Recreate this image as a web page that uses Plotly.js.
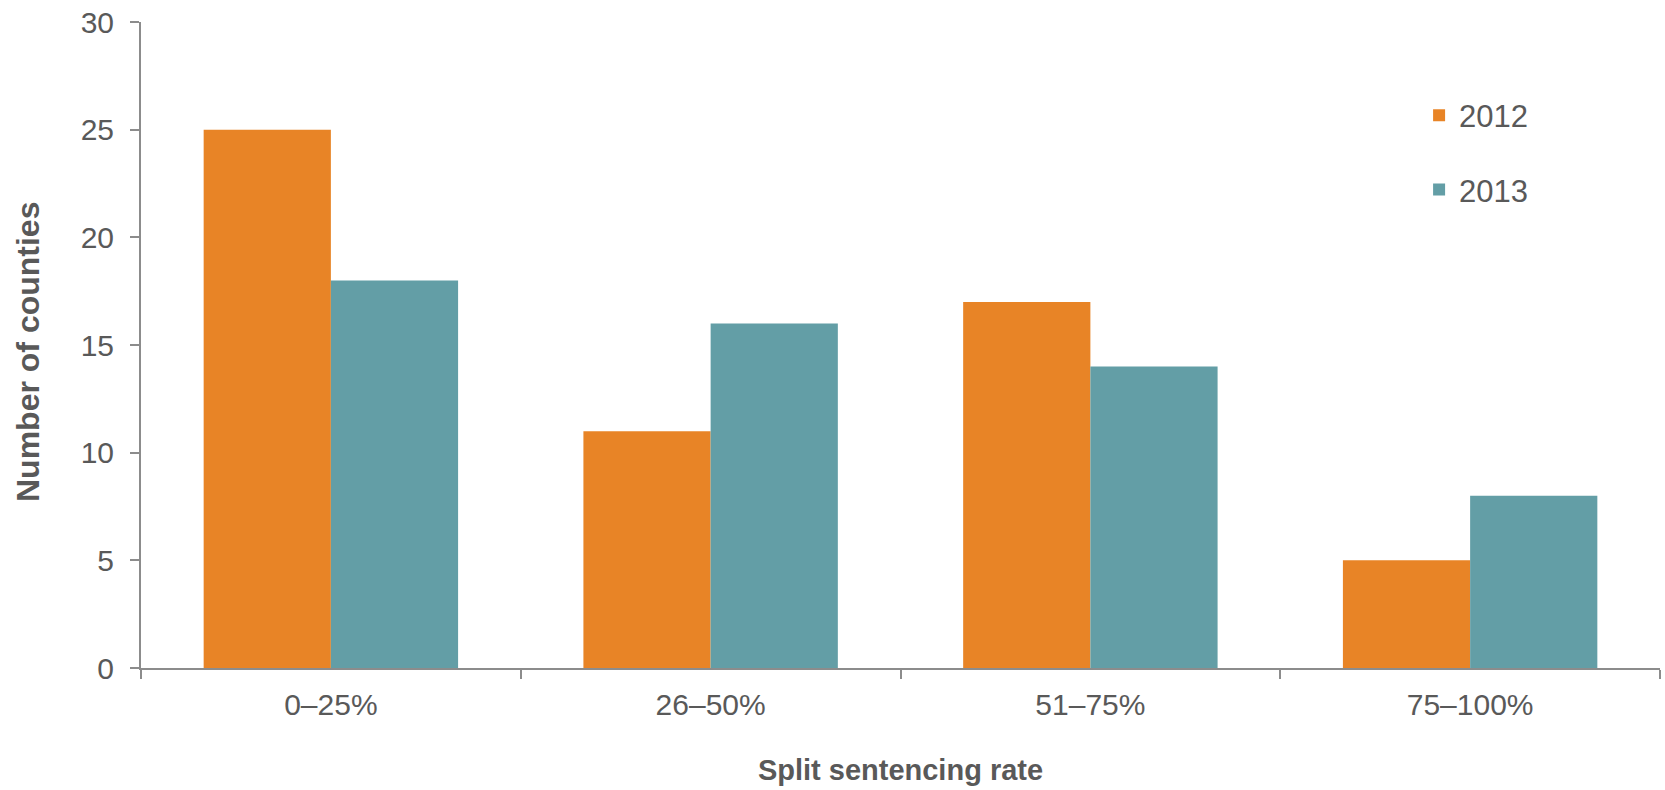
<!DOCTYPE html>
<html>
<head>
<meta charset="utf-8">
<script src="https://cdn.plot.ly/plotly-3.0.1.min.js"></script>
<style>html,body{margin:0;padding:0;background:#fff;}#chart{width:1665px;height:790px;}</style>
</head>
<body>
<div id="chart"></div>
<script>
const categories = ["0–25%", "26–50%", "51–75%", "75–100%"];
const values2012 = [25, 11, 17, 5];
const values2013 = [18, 16, 14, 8];
const seriesNames = ["2012", "2013"];
const yTickValues = [0, 5, 10, 15, 20, 25, 30];

const textColor = "#595959";
const axisColor = "#8c8c8c";
const fontFam = "Liberation Sans, Arial, sans-serif";

const traces = [
  {type: "bar", name: seriesNames[0], x: categories, y: values2012, legendgroup: "a",
   marker: {color: "#E88426", line: {width: 0}}, hoverinfo: "x+y+name"},
  {type: "bar", name: seriesNames[1], x: categories, y: values2013, legendgroup: "b",
   marker: {color: "#639EA6", line: {width: 0}}, hoverinfo: "x+y+name"}
];

const layout = {
  width: 1665, height: 790,
  margin: {l: 141, r: 5, t: 22, b: 122, pad: 0},
  paper_bgcolor: "#ffffff", plot_bgcolor: "#ffffff",
  font: {family: fontFam, color: textColor, size: 30},
  barmode: "group", bargap: 0.33, bargroupgap: 0,
  showlegend: true,
  legend: {x: 0.8414, y: 0.897, xanchor: "left", yanchor: "top",
           font: {family: fontFam, size: 31, color: textColor},
           traceorder: "grouped", tracegroupgap: 31, itemwidth: 30,
           bgcolor: "rgba(0,0,0,0)"},
  annotations: [{
    text: "Number of counties", textangle: -90, showarrow: false,
    xref: "paper", yref: "paper",
    x: (28 - 141) / 1519, y: 1 - (352 - 22) / 646,
    xanchor: "center", yanchor: "middle",
    font: {family: fontFam, size: 32, color: textColor, weight: "bold"}
  }],
  xaxis: {
    type: "category",
    showline: true, linecolor: axisColor, linewidth: 2,
    ticks: "outside", tickson: "boundaries", ticklen: 9, tickcolor: axisColor, tickwidth: 2,
    showgrid: false, zeroline: false,
    tickfont: {family: fontFam, size: 30, color: textColor},
    ticklabelstandoff: 9,
    title: {text: "Split sentencing rate", standoff: 40,
            font: {family: fontFam, size: 29, color: textColor, weight: "bold"}}
  },
  yaxis: {
    range: [0, 30], tickvals: yTickValues, ticktext: yTickValues.map(String),
    showline: true, linecolor: axisColor, linewidth: 2,
    ticks: "outside", ticklen: 9, tickcolor: axisColor, tickwidth: 2,
    showgrid: false, zeroline: false,
    tickfont: {family: fontFam, size: 30, color: textColor},
    ticklabelstandoff: 10
  }
};

Plotly.newPlot("chart", traces, layout, {displayModeBar: false, staticPlot: true});
</script>
</body>
</html>
